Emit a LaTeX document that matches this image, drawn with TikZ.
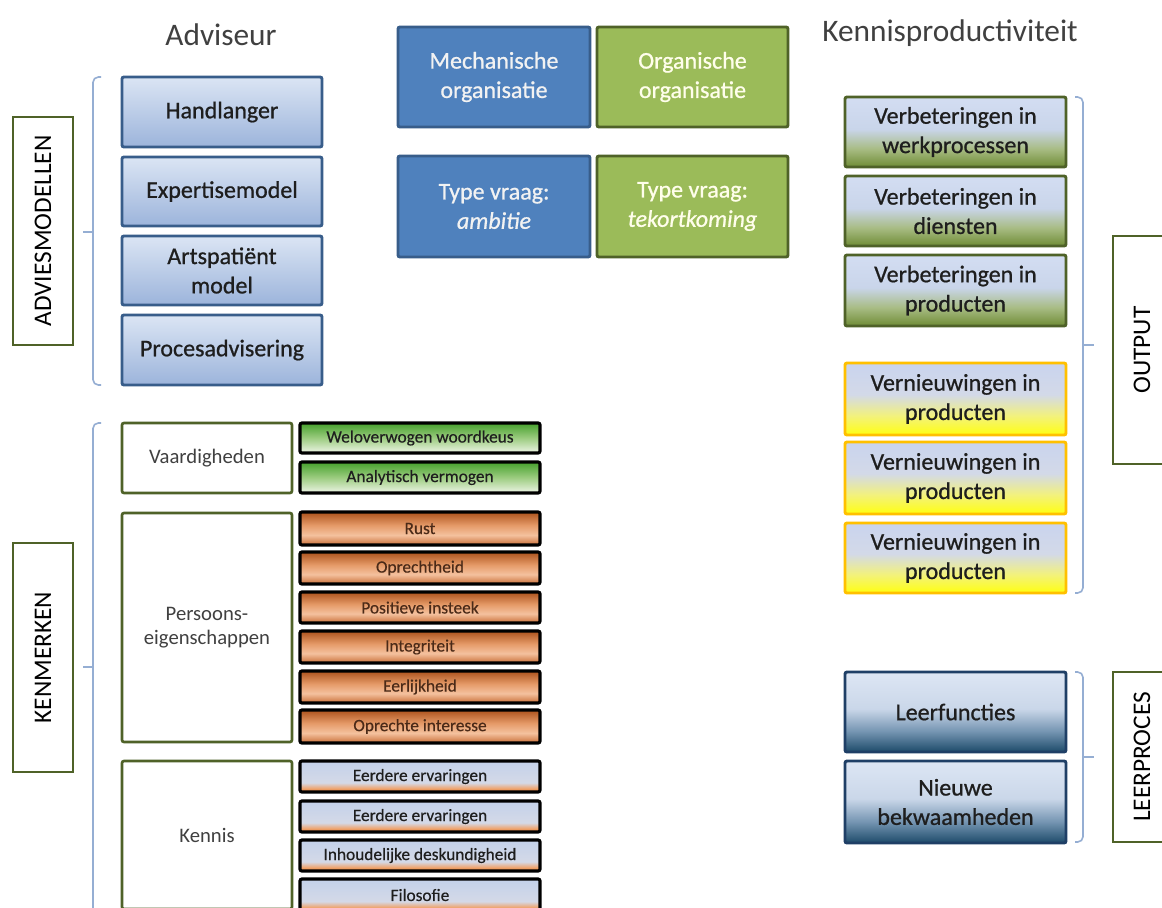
\documentclass[tikz,border=0pt]{standalone}
\usepackage{fontspec}
\setmainfont{Carlito}
\newfontfamily\boxfont[FakeBold=0.8]{Carlito}
\newfontfamily\smallfont[FakeBold=0.4]{Carlito}

% colours
\definecolor{oliveline}{HTML}{4F6228}
\definecolor{blueline}{HTML}{385D8A}
\definecolor{bluefill}{HTML}{4F81BD}
\definecolor{greenfill}{HTML}{9BBB59}
\definecolor{gold}{HTML}{FFC000}
\definecolor{navyline}{HTML}{1F3F66}
\definecolor{braceblue}{HTML}{95AED3}
\definecolor{textdark}{HTML}{1E1E1E}
\definecolor{titlegray}{HTML}{404040}
\definecolor{traittext}{HTML}{4A2A18}

% shading stops
\definecolor{advA}{HTML}{9CB4DB}
\definecolor{advB}{HTML}{DBE5F4}
\definecolor{verA}{HTML}{6F8C35}
\definecolor{verB}{HTML}{A8BC84}
\definecolor{verC}{HTML}{C9D5EA}
\definecolor{verD}{HTML}{D3DDF2}
\definecolor{venA}{HTML}{FFFF10}
\definecolor{venB}{HTML}{F3F27A}
\definecolor{venC}{HTML}{D3D9E8}
\definecolor{venD}{HTML}{C9D4EE}
\definecolor{leA}{HTML}{1D4B6A}
\definecolor{leB}{HTML}{7595B2}
\definecolor{leC}{HTML}{CAD7E9}
\definecolor{leD}{HTML}{DDE6F4}
\definecolor{skA}{HTML}{EEF5E7}
\definecolor{skB}{HTML}{9CCC80}
\definecolor{skC}{HTML}{45A02C}
\definecolor{trA}{HTML}{C96F38}
\definecolor{trB}{HTML}{F4C19E}
\definecolor{trC}{HTML}{E59A68}
\definecolor{trD}{HTML}{AC521C}
\definecolor{knA}{HTML}{E5782E}
\definecolor{knB}{HTML}{EEA571}
\definecolor{knC}{HTML}{D4D9E7}
\definecolor{knD}{HTML}{C3D1EA}

% vertical shadings (stops at 25bp = bottom of the shape, 75bp = top)
\pgfdeclareverticalshading{advshade}{100bp}{%
  color(0bp)=(advA); color(25bp)=(advA);
  color(75bp)=(advB); color(100bp)=(advB)}
\pgfdeclareverticalshading{verbshade}{100bp}{%
  color(0bp)=(verA); color(25bp)=(verA);
  color(38bp)=(verB); color(52bp)=(verC);
  color(75bp)=(verD); color(100bp)=(verD)}
\pgfdeclareverticalshading{vernshade}{100bp}{%
  color(0bp)=(venA); color(25bp)=(venA);
  color(38bp)=(venB); color(53bp)=(venC);
  color(75bp)=(venD); color(100bp)=(venD)}
\pgfdeclareverticalshading{leershade}{100bp}{%
  color(0bp)=(leA); color(25bp)=(leA);
  color(38bp)=(leB); color(52bp)=(leC);
  color(75bp)=(leD); color(100bp)=(leD)}
\pgfdeclareverticalshading{skillshade}{100bp}{%
  color(0bp)=(skA); color(25bp)=(skA);
  color(50bp)=(skB); color(75bp)=(skC);
  color(100bp)=(skC)}
\pgfdeclareverticalshading{traitshade}{100bp}{%
  color(0bp)=(trA); color(25bp)=(trA);
  color(40bp)=(trB); color(55bp)=(trC);
  color(75bp)=(trD); color(100bp)=(trD)}
\pgfdeclareverticalshading{knowshade}{100bp}{%
  color(0bp)=(knA); color(25bp)=(knA);
  color(31bp)=(knB); color(40bp)=(knC);
  color(75bp)=(knD); color(100bp)=(knD)}

% box placed by its corners: name, x1, y1, x2, y2, style, text
\newcommand\cbox[7]{%
  \node[#6, minimum width={(#4-#2)*0.75pt}, minimum height={(#5-#3)*0.75pt}]
    (#1) at ({(#2+#4)/2},{(#3+#5)/2}) {#7};}

\tikzset{
  basebox/.style={rectangle, rounded corners=1.5pt, inner sep=0pt, align=center},
  bigtext/.style={font=\boxfont\fontsize{18}{22}\selectfont},
  smalltext/.style={font=\smallfont\fontsize{13}{15}\selectfont},
  advbox/.style={basebox, draw=blueline, line width=2.2pt, shading=advshade, shade,
    bigtext, text=textdark},
  verbbox/.style={basebox, draw=oliveline, line width=2.2pt, shading=verbshade, shade,
    bigtext, text=textdark},
  vernbox/.style={basebox, draw=gold, line width=2.2pt, shading=vernshade, shade,
    bigtext, text=textdark},
  leerbox/.style={basebox, draw=navyline, line width=2.2pt, shading=leershade, shade,
    bigtext, text=textdark},
  bluebox/.style={basebox, draw=blueline, line width=2.2pt, fill=bluefill,
    bigtext, text=white!95!black},
  greenbox/.style={basebox, draw=oliveline, line width=2.2pt, fill=greenfill,
    bigtext, text=yellow!8!white},
  labelbox/.style={basebox, rounded corners=0pt, draw=oliveline, line width=2.2pt, fill=white},
  labeltext/.style={rotate=90, font=\fontsize{19}{22}\selectfont, text=black},
  groupbox/.style={basebox, draw=oliveline, line width=2pt, fill=white,
    font=\fontsize{15.5}{18}\selectfont, text=titlegray},
  skillbox/.style={basebox, draw=black, line width=2.4pt, shading=skillshade, shade,
    smalltext, text=textdark},
  traitbox/.style={basebox, draw=black, line width=2.4pt, shading=traitshade, shade,
    smalltext, text=traittext},
  knowbox/.style={basebox, draw=black, line width=2.4pt, shading=knowshade, shade,
    smalltext, text=textdark},
  brace/.style={draw=braceblue, line width=1.2pt, rounded corners=4pt},
  title/.style={font=\fontsize{23.5}{26}\selectfont, text=titlegray}
}

\begin{document}
\begin{tikzpicture}[x=0.75pt, y=-0.75pt]
\clip (0,0) rectangle (1162,907);
\fill[white] (0,0) rectangle (1162,907);

% column titles
\node[title] (tadv) at (221,35) {Adviseur};
\node[title] (tkp) at (950,33) {Kennisproductiviteit};

% advisory models
\cbox{hand}{122}{77}{322}{147}{advbox}{Handlanger}
\cbox{expm}{122}{157}{322}{226}{advbox}{Expertisemodel}
\cbox{arts}{122}{236}{322}{305}{advbox}{Artspatiënt\\model}
\cbox{proc}{122}{315}{322}{385}{advbox}{Procesadvisering}
\draw[brace] (101,77) -- (93,77) -- (93,385) -- (101,385);
\draw[brace] (93,232) -- (83,232);
\cbox{advlab}{13}{117}{73}{345}{labelbox}{}
\node[labeltext] at (advlab.center) {ADVIESMODELLEN};

% organisation type and question type
\cbox{mech}{398}{27}{590}{127}{bluebox}{Mechanische\\organisatie}
\cbox{orga}{597}{27}{788}{127}{greenbox}{Organische\\organisatie}
\cbox{amb}{398}{156}{590}{257}{bluebox}{Type vraag:\\\textit{ambitie}}
\cbox{tek}{597}{156}{788}{257}{greenbox}{Type vraag:\\\textit{tekortkoming}}

% characteristics
\draw[brace] (101,423) -- (93,423) -- (93,940);
\draw[brace] (93,667) -- (83,667);
\cbox{kenlab}{13}{543}{73}{772}{labelbox}{}
\node[labeltext] at (kenlab.center) {KENMERKEN};

\cbox{vaard}{122}{423}{292}{493}{groupbox}{Vaardigheden}
\cbox{pers}{122}{513}{292}{742}{groupbox}{Persoons-\\eigenschappen}
\cbox{kennis}{122}{761}{292}{909}{groupbox}{Kennis}

\cbox{wel}{300}{423}{540}{453}{skillbox}{Weloverwogen woordkeus}
\cbox{ana}{300}{462}{540}{493}{skillbox}{Analytisch vermogen}

\cbox{rust}{300}{512}{540}{545}{traitbox}{Rust}
\cbox{oprh}{300}{552}{540}{584}{traitbox}{Oprechtheid}
\cbox{posi}{300}{592}{540}{623}{traitbox}{Positieve insteek}
\cbox{inte}{300}{631}{540}{663}{traitbox}{Integriteit}
\cbox{eerl}{300}{671}{540}{703}{traitbox}{Eerlijkheid}
\cbox{opri}{300}{710}{540}{743}{traitbox}{Oprechte interesse}

\cbox{erv1}{300}{761}{540}{792}{knowbox}{Eerdere ervaringen}
\cbox{erv2}{300}{801}{540}{832}{knowbox}{Eerdere ervaringen}
\cbox{inh}{300}{840}{540}{871}{knowbox}{Inhoudelijke deskundigheid}
\cbox{filo}{300}{879}{540}{911}{knowbox}{Filosofie}

% output
\cbox{verb1}{845}{97}{1066}{167}{verbbox}{Verbeteringen in\\werkprocessen}
\cbox{verb2}{845}{176}{1066}{246}{verbbox}{Verbeteringen in\\diensten}
\cbox{verb3}{845}{255}{1066}{326}{verbbox}{Verbeteringen in\\producten}
\cbox{vern1}{845}{363}{1066}{435}{vernbox}{Vernieuwingen in\\producten}
\cbox{vern2}{845}{442}{1066}{514}{vernbox}{Vernieuwingen in\\producten}
\cbox{vern3}{845}{523}{1066}{593}{vernbox}{Vernieuwingen in\\producten}
\draw[brace] (1075,97) -- (1083,97) -- (1083,593) -- (1075,593);
\draw[brace] (1083,345) -- (1094,345);
\cbox{outlab}{1113}{236}{1173}{464}{labelbox}{}
\node[labeltext] at (1142,350) {OUTPUT};

% learning process
\cbox{leer1}{845}{672}{1066}{752}{leerbox}{Leerfuncties}
\cbox{leer2}{845}{761}{1066}{843}{leerbox}{Nieuwe\\bekwaamheden}
\draw[brace] (1075,672) -- (1083,672) -- (1083,842) -- (1075,842);
\draw[brace] (1083,757) -- (1094,757);
\cbox{leerlab}{1113}{672}{1173}{842}{labelbox}{}
\node[labeltext] at (1142,757) {LEERPROCES};
\end{tikzpicture}
\end{document}
